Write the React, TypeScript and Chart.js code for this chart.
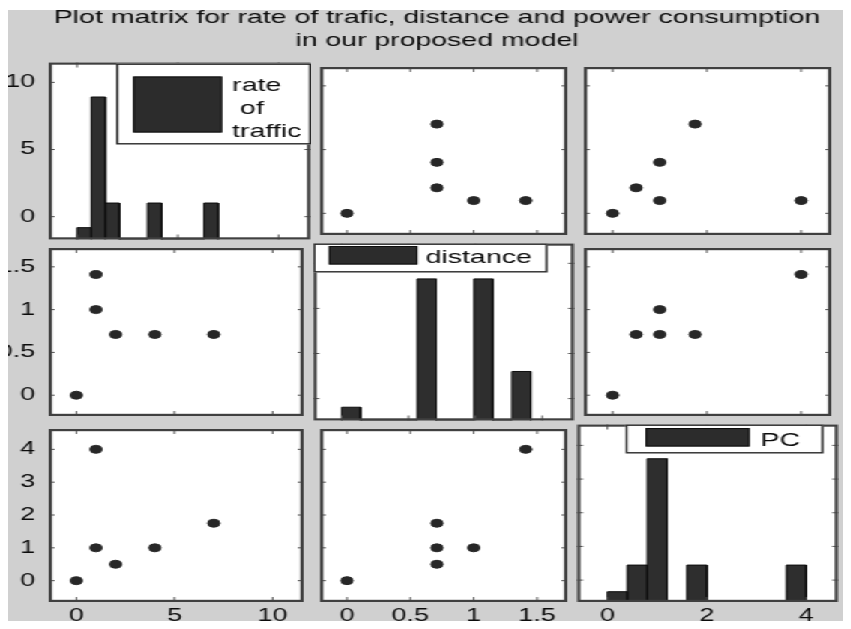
import React, { useEffect, useRef } from "react";
import { Chart, registerables } from "chart.js";

Chart.register(...registerables);

const FONT = "'Liberation Sans', Arial, Helvetica, sans-serif";

// ---------- data ----------
const titleLines = [
  "Plot matrix for rate of trafic, distance and power consumption",
  "in our proposed model",
];

// six observations
const trafficRate = [0, 1, 1, 2, 4, 7];
const distance = [0, 1.41, 1, 0.71, 0.71, 0.71];
const powerConsumption = [0, 4, 1, 0.5, 1, 1.75];

const trafficLabel = ["rate", " of", "traffic"];
const distanceLabel = ["distance"];
const pcLabel = ["PC"];

const trafficTicks = [0, 5, 10];
const distanceTicks = [0, 0.5, 1, 1.5];
const pcTicksX = [0, 2, 4];
const pcTicksY = [0, 1, 2, 3, 4];

// histogram bins (left edge, right edge) and bar heights (share of panel height)
const trafficBinLo = [0, 0.7, 1.4, 3.5, 6.3];
const trafficBinHi = [0.7, 1.4, 2.1, 4.2, 7.0];
const trafficBinHeight = [0.067, 0.805, 0.206, 0.206, 0.206];

const distanceBinLo = [0, 0.566, 0.99, 1.273];
const distanceBinHi = [0.141, 0.707, 1.131, 1.414];
const distanceBinHeight = [0.075, 0.8, 0.8, 0.277];

const pcBinLo = [0, 0.4, 0.8, 1.6, 3.6];
const pcBinHi = [0.4, 0.8, 1.2, 2.0, 4.0];
const pcBinHeight = [0.058, 0.208, 0.807, 0.208, 0.208];

// ---------- layout (unstretched px; the figure is stretched 1.5x horizontally) ----------
const S = 1.5;
const FIG_W = 562;
const FIG_H = 619;
const colLeft = [27, 203, 379];
const colW = 175;
const rowTop = [52, 233, 414];
const rowH = 178;
const TEXT = "#0c0c0c";

type LegendLayout = {
  box: number[];
  swatch: number[];
  textX: number;
  baselines: number[];
};

const variables = [
  {
    values: trafficRate,
    ticksX: trafficTicks,
    ticksY: trafficTicks,
    xRange: [-1.41, 11.58],
    yRange: [-1.7, 11.48],
    lo: trafficBinLo,
    hi: trafficBinHi,
    h: trafficBinHeight,
    label: trafficLabel,
    legend: { box: [45, 1, 130, 81], swatch: [56.3, 14, 59.3, 56], textX: 122.3, baselines: [28, 51, 74] } as LegendLayout,
  },
  {
    values: distance,
    ticksX: distanceTicks,
    ticksY: distanceTicks,
    xRange: [-0.212, 1.738],
    yRange: [-0.243, 1.72],
    lo: distanceBinLo,
    hi: distanceBinHi,
    h: distanceBinHeight,
    label: distanceLabel,
    legend: { box: [0, 0, 156.3, 29], swatch: [10.3, 2.5, 59.3, 18.5], textX: 75, baselines: [19.5] } as LegendLayout,
  },
  {
    values: powerConsumption,
    ticksX: pcTicksX,
    ticksY: pcTicksY,
    xRange: [-0.61, 4.64],
    yRange: [-0.65, 4.62],
    lo: pcBinLo,
    hi: pcBinHi,
    h: pcBinHeight,
    label: pcLabel,
    legend: { box: [32.3, 0, 132, 29], swatch: [45.7, 3.5, 69.3, 18.5], textX: 122.3, baselines: [21] } as LegendLayout,
  },
];

function histPoints(lo: number[], hi: number[], h: number[]) {
  const pts: { x: number; y: number }[] = [];
  lo.forEach((l, i) => {
    pts.push({ x: l, y: 0 }, { x: l, y: h[i] }, { x: hi[i], y: h[i] }, { x: hi[i], y: 0 });
  });
  return pts;
}

const panelFrame = {
  id: "panelFrame",
  beforeDatasetsDraw(chart: any) {
    const { ctx, chartArea: a } = chart;
    ctx.save();
    ctx.fillStyle = "#ffffff";
    ctx.fillRect(a.left, a.top, a.right - a.left, a.bottom - a.top);
    ctx.restore();
  },
  afterDatasetsDraw(chart: any) {
    const { ctx, chartArea: a, scales } = chart;
    const xs = scales.x;
    const ys = scales.y;
    ctx.save();
    ctx.strokeStyle = "#555555";
    ctx.lineWidth = 1;
    ctx.beginPath();
    for (const t of xs.ticks) {
      const px = xs.getPixelForValue(t.value);
      ctx.moveTo(px, a.bottom);
      ctx.lineTo(px, a.bottom - 5);
      ctx.moveTo(px, a.top);
      ctx.lineTo(px, a.top + 5);
    }
    for (const t of ys.ticks) {
      const py = ys.getPixelForValue(t.value);
      ctx.moveTo(a.left, py);
      ctx.lineTo(a.left + 4, py);
      ctx.moveTo(a.right, py);
      ctx.lineTo(a.right - 4, py);
    }
    ctx.stroke();
    ctx.strokeStyle = "#404040";
    ctx.lineWidth = 2.2;
    ctx.strokeRect(a.left + 1.1, a.top + 1.1, a.right - a.left - 2.2, a.bottom - a.top - 2.2);
    ctx.restore();
  },
};

function makeLegend(lines: string[], lay: LegendLayout) {
  return {
    id: "boxLegend",
    afterDraw(chart: any) {
      const { ctx, chartArea: a } = chart;
      const [bx, by, bw, bh] = lay.box;
      const [sx, sy, sw, sh] = lay.swatch;
      ctx.save();
      ctx.fillStyle = "#ffffff";
      ctx.fillRect(a.left + bx, a.top + by, bw, bh);
      ctx.strokeStyle = "#2a2a2a";
      ctx.lineWidth = 1.4;
      ctx.strokeRect(a.left + bx + 0.7, a.top + by + 0.7, bw - 1.4, bh - 1.4);
      ctx.fillStyle = "#2c2c2c";
      ctx.fillRect(a.left + sx, a.top + sy, sw, sh);
      ctx.strokeStyle = "#0e0e0e";
      ctx.lineWidth = 1;
      ctx.strokeRect(a.left + sx + 0.5, a.top + sy + 0.5, sw - 1, sh - 1);
      ctx.fillStyle = TEXT;
      ctx.font = `19px ${FONT}`;
      ctx.textAlign = "left";
      ctx.textBaseline = "alphabetic";
      lines.forEach((s, i) => ctx.fillText(s, a.left + lay.textX, a.top + lay.baselines[i]));
      ctx.restore();
    },
  };
}

function axis(range: number[], ticks: number[], show: boolean, size: number, isX: boolean) {
  return {
    type: "linear",
    position: isX ? "bottom" : "left",
    min: range[0],
    max: range[1],
    grid: { display: false, drawTicks: false },
    border: { display: false },
    ticks: {
      display: show,
      padding: isX ? 3 : 9,
      color: TEXT,
      autoSkip: false,
      maxRotation: 0,
      font: { size: 18, family: FONT },
      callback: (v: any) => String(v),
    },
    afterBuildTicks: (s: any) => {
      s.ticks = ticks.map((value) => ({ value }));
    },
    afterFit: (s: any) => {
      if (isX) s.height = size;
      else s.width = size;
      s.paddingLeft = 0;
      s.paddingRight = 0;
      s.paddingTop = 0;
      s.paddingBottom = 0;
    },
  };
}

function panelConfig(r: number, c: number): any {
  const xv = variables[c];
  const yv = variables[r];
  const diag = r === c;
  const datasets: any[] = [];
  if (diag) {
    datasets.push({
      type: "line",
      data: histPoints(xv.lo, xv.hi, xv.h),
      xAxisID: "x",
      yAxisID: "yh",
      fill: "origin",
      backgroundColor: "#2e2e2e",
      borderColor: "#0d0d0d",
      borderWidth: 1,
      pointRadius: 0,
      tension: 0,
    });
  } else {
    datasets.push({
      type: "scatter",
      data: xv.values.map((x, i) => ({ x, y: yv.values[i] })),
      xAxisID: "x",
      yAxisID: "y",
      pointRadius: 4,
      pointHoverRadius: 4,
      pointBackgroundColor: "#272727",
      pointBorderColor: "#272727",
      pointBorderWidth: 1,
      showLine: false,
    });
  }
  const scales: any = {
    x: axis(xv.xRange, xv.ticksX, r === 2, r === 2 ? FIG_H - (rowTop[2] + rowH) : 0, true),
    y: axis(yv.yRange, yv.ticksY, c === 0, c === 0 ? colLeft[0] : 0, false),
  };
  if (diag) {
    scales.yh = { type: "linear", display: false, min: 0, max: 1, position: "right" };
  }
  return {
    type: "scatter",
    data: { datasets },
    options: {
      animation: false,
      responsive: true,
      maintainAspectRatio: false,
      devicePixelRatio: 1,
      events: [],
      layout: { padding: 0 },
      plugins: {
        legend: { display: false },
        tooltip: { enabled: false },
        title: { display: false },
      },
      scales,
    },
    plugins: diag ? [panelFrame, makeLegend(xv.label, xv.legend)] : [panelFrame],
  };
}

const titleConfig: any = {
  type: "scatter",
  data: { datasets: [] },
  options: {
    animation: false,
    responsive: true,
    maintainAspectRatio: false,
    devicePixelRatio: 1,
    events: [],
    layout: { padding: { left: 10, right: 0, top: 0, bottom: 0 } },
    scales: { x: { display: false }, y: { display: false } },
    plugins: {
      legend: { display: false },
      tooltip: { enabled: false },
      title: {
        display: true,
        text: titleLines,
        color: TEXT,
        font: { size: 19, family: FONT, weight: "normal", lineHeight: 1.21 },
        padding: { top: 4, bottom: 0 },
      },
    },
  },
};

type Box = { left: number; top: number; width: number; height: number };

const boxes: Box[] = [{ left: 0, top: -8, width: FIG_W, height: 60 }];
const panelIndex: number[][] = [];
for (let r = 0; r < 3; r++) {
  for (let c = 0; c < 3; c++) {
    const left = c === 0 ? 0 : colLeft[c];
    const right = colLeft[c] + colW;
    const top = rowTop[r];
    const bottom = r === 2 ? FIG_H : rowTop[r] + rowH;
    boxes.push({ left, top, width: right - left, height: bottom - top });
    panelIndex.push([r, c]);
  }
}

export default function App() {
  const refs = useRef<(HTMLCanvasElement | null)[]>([]);

  useEffect(() => {
    const charts: Chart[] = [];
    const first = refs.current[0];
    if (first) charts.push(new Chart(first, titleConfig));
    panelIndex.forEach(([r, c], i) => {
      const cv = refs.current[i + 1];
      if (cv) charts.push(new Chart(cv, panelConfig(r, c)));
    });
    return () => charts.forEach((ch) => ch.destroy());
  }, []);

  return (
    <div style={{ position: "relative", width: 835, height: 613 }}>
      <div
        style={{
          position: "absolute",
          left: 0,
          top: 2,
          width: FIG_W,
          height: FIG_H,
          background: "#d0d0d0",
          overflow: "hidden",
          transform: `scaleX(${S})`,
          transformOrigin: "0 0",
        }}
      >
        {boxes.map((b, i) => (
          <div
            key={i}
            style={{ position: "absolute", left: b.left, top: b.top, width: b.width, height: b.height }}
          >
            <canvas ref={(el) => { refs.current[i] = el; }} />
          </div>
        ))}
      </div>
    </div>
  );
}
